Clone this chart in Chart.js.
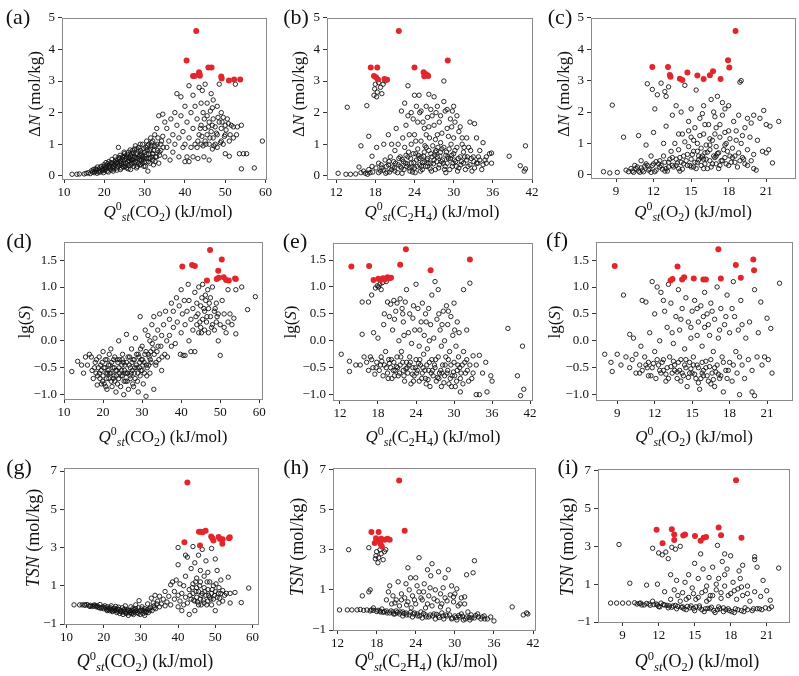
<!DOCTYPE html>
<html>
<head>
<meta charset="utf-8">
<script src="https://cdn.jsdelivr.net/npm/chart.js@4.4.1/dist/chart.umd.min.js"></script>
<style>
  body { margin: 0; background: #fff; }
  #wrap { position: relative; width: 799px; height: 676px; overflow: hidden; font-family: "Liberation Serif", "Times New Roman", serif; color: #111; }
  canvas { position: absolute; }
  .lbl { position: absolute; font-size: 22px; transform: translate(-50%, -50%); white-space: nowrap; }
  .xt { position: absolute; transform: translate(-50%, -50%); white-space: nowrap; }
  .yt { position: absolute; transform: translate(-50%, -50%) rotate(-90deg); white-space: nowrap; }
  sub, sup { font-size: 70%; line-height: 0; }
</style>
</head>
<body>
<div id="wrap"></div>
<script>
// ============================================================
// Datos: ΔN, lg(S), TSN frente a Q0st (CO2, C2H4, O2)
// Puntos rojos = materiales destacados
// ============================================================

var TICKS_CO2 = [10, 20, 30, 40, 50, 60];
var TICKS_C2H4 = [12, 18, 24, 30, 36, 42];
var TICKS_O2 = [9, 12, 15, 18, 21];
var TICKS_DN = [0, 1, 2, 3, 4, 5];
var TICKS_LGS = [-1.0, -0.5, 0.0, 0.5, 1.0, 1.5];
var TICKS_TSN = [-1, 1, 3, 5, 7];

// (a) ΔN vs Qst(CO2)
var dnCO2Red = [[40.4,3.65],[42.8,4.58],[42,3.16],[42.4,3.16],[43.5,3.28],[43.6,3.22],[43.7,3.17],[45.8,3.43],[46.6,3.43],[49,3.14],[49.1,3.08],[50.9,3.02],[52.2,3.05],[53.7,3.05]];
var dnCO2Gray = [[12,0.05],[13.2,0.05],[13.8,0.06],[15,0.06],[15.5,0.08],[16,0.1],[16.5,0.07],[17,0.12],[17.5,0.1],[18,0.15],[18.2,0.08],[18.8,0.18],[19,0.12],[19.5,0.22],[19.8,0.1],[20,0.3],[20.2,0.18],[20.5,0.25],[20.8,0.38],[21,0.12],[21.2,0.3],[21.5,0.22],[21.8,0.4],[22,0.28],[22.2,0.15],[22.5,0.35],[22.8,0.5],[23,0.25],[23.2,0.42],[23.5,0.3],[23.5,0.9],[23.8,0.55],[24,0.2],[24,0.45],[24.3,0.35],[24.5,0.6],[24.8,0.28],[25,0.5],[25,0.7],[25.3,0.4],[25.5,0.25],[25.5,0.6],[25.8,0.45],[26,0.75],[26,0.32],[26.3,0.55],[26.5,0.65],[26.5,0.2],[26.8,0.4],[27,0.8],[27,0.5],[27.3,0.3],[27.5,0.62],[27.5,0.85],[27.8,0.45],[28,0.7],[28,0.25],[28.3,0.55],[28.5,0.9],[28.5,0.4],[28.8,0.65],[29,0.35],[29,0.8],[29.2,0.5],[29.5,1.0],[29.5,0.6],[29.8,0.3],[30,0.75],[30,0.45],[30.3,0.9],[30.5,1.1],[30.5,0.55],[30.8,0.15],[31,0.7],[31,1.0],[31.3,0.4],[31.5,0.85],[31.5,1.2],[31.8,0.6],[32,1.1],[32,0.5],[32.3,0.8],[32.5,1.3],[32.8,0.95],[33,0.6],[33,1.5],[33.3,1.2],[33.5,0.4],[33.5,1.9],[34,0.8],[34,1.0],[34.5,1.95],[34.5,1.25],[35,0.6],[35,1.7],[35.5,0.9],[35.5,1.5],[36,1.1],[36.3,0.5],[36.5,1.8],[37,1.3],[37,0.75],[37.5,2.0],[37.5,1.0],[38,1.6],[38,2.6],[38.5,1.2],[38.5,0.6],[39,1.9],[39,2.5],[39.5,1.4],[39.5,0.9],[40,0.45],[40,2.2],[40,1.0],[40.5,0.6],[40.5,1.7],[41,2.85],[41,1.2],[41,0.45],[41.5,2.0],[41.5,0.9],[42,2.55],[42,1.5],[42,0.6],[42.5,1.0],[42.5,2.2],[43,0.9],[43,1.8],[43.5,2.8],[43.5,1.3],[44,2.3],[44,1.0],[44,1.6],[44.5,2.0],[44.5,0.95],[45,1.5],[45,2.9],[45,1.1],[45.5,1.9],[45.5,1.3],[45.5,2.3],[46,1.7],[46,1.0],[46,0.5],[46.3,2.05],[46.5,1.4],[46.5,2.6],[47,1.2],[47,1.8],[47,2.4],[47.5,1.0],[47.5,1.55],[48,2.2],[48,1.3],[48,0.9],[48.5,1.7],[48.5,2.9],[49,1.1],[49,1.5],[49,2.0],[49.5,1.0],[49.5,1.85],[50,1.6],[50,0.7],[50,1.3],[50.5,1.8],[51,1.1],[51,0.62],[51.5,1.6],[52,1.55],[52,1.2],[52.5,2.9],[53,1.55],[53.5,0.7],[54,1.6],[54,0.22],[54.5,0.7],[55.3,0.7],[57.2,0.25],[59.2,1.1],
  [16.8,0.16],[17.3,0.2],[17.8,0.22],[18.3,0.28],[18.6,0.12],[19.2,0.3],[19.6,0.16],[20.1,0.22],[20.4,0.42],[20.7,0.15],[21.1,0.45],[21.4,0.26],[21.7,0.18],[21.9,0.52],[22.1,0.38],[22.4,0.22],[22.7,0.6],[22.9,0.42],[23.1,0.18],[23.4,0.5],[23.7,0.35],[23.9,0.65],[24.2,0.25],[24.4,0.52],[24.7,0.4],[24.9,0.75],[25.2,0.3],[25.4,0.55],[25.7,0.68],[25.9,0.22],[26.2,0.48],[26.4,0.82],[26.7,0.35],[26.9,0.6],[27.2,0.72],[27.4,0.4],[27.7,0.95],[27.9,0.55],[28.2,0.3],[28.4,0.78],[28.7,0.5],[28.9,1.0],[29.2,0.65],[29.4,0.4],[29.7,0.85],[29.9,0.55],[30.2,0.3],[30.4,0.68],[30.7,0.95],[30.9,0.45],[31.2,0.8],[31.4,0.55],[31.7,1.05],[31.9,0.7],[32.2,0.35],[32.4,0.95],[32.7,0.6],[33.2,0.8],[33.7,0.65],[34.2,1.1],
  [17.6,0.14],[18.1,0.2],[18.9,0.25],[19.4,0.18],[19.9,0.35],[20.3,0.28],[20.6,0.32],[21.3,0.35],[21.6,0.42],[22.3,0.3],[22.6,0.45],[23.3,0.38],[23.6,0.58],[24.1,0.4],[24.6,0.3],[24.8,0.58],[25.1,0.62],[25.6,0.38],[26.1,0.58],[26.6,0.5],[26.8,0.72],[27.1,0.42],[27.6,0.58],[28.1,0.85],[28.6,0.6],[28.8,0.35],[29.1,0.72],[29.6,0.5],[30.1,0.62],[30.6,0.82],[31.1,0.55],[31.6,0.95],[32.1,0.7],[32.6,0.45],[33.1,1.0],[33.6,0.75],[34.6,0.9],[43.2,1.1],[43.8,1.5],[44.2,1.25],[44.8,1.8],[45.2,1.0],[45.8,1.55],[46.2,1.2],[46.8,1.6],[47.2,0.95],[47.8,1.35],[48.2,1.85],[48.8,1.05],[49.2,1.7],[49.8,1.25],[50.2,1.45],[50.8,1.65],[51.2,1.3],[44.3,2.7],[46.8,2.15],[43.2,0.55],[44.7,0.6],[46.8,0.85],[52.8,1.3]];

// (b) ΔN vs Qst(C2H4)
var dnC2H4Red = [[17.3,3.43],[18.3,3.43],[17.8,3.16],[18.1,3.12],[18.4,3.05],[19.4,3.06],[19.8,3.04],[21.6,4.58],[24.0,3.43],[25.4,3.28],[25.7,3.22],[26.0,3.18],[25.5,3.15],[26.1,3.16],[29.1,3.65]];
var dnC2H4Gray = [[12.3,0.08],[13.5,0.05],[14.2,0.05],[15,0.06],[15.5,0.28],[15.8,0.95],[15.8,0.1],[16.2,0.15],[16.5,0.08],[16.7,2.22],[13.7,2.17],[17,1.25],[17,0.2],[17.2,0.1],[17.5,0.62],[17.5,0.3],[17.8,2.55],[17.9,2.75],[18,2.9],[18.2,2.5],[18.3,2.65],[18.5,2.95],[18.8,2.8],[19,2.6],[19.2,2.9],[19.5,3.0],[18.8,0.15],[18.5,0.4],[18.2,0.9],[19,0.25],[19.3,1.0],[19.5,0.5],[19.8,0.12],[20,0.35],[20,1.3],[20.3,0.6],[20.5,0.2],[20.5,1.0],[20.8,0.45],[21,0.8],[21,0.15],[21.2,1.5],[21.5,0.35],[21.5,1.0],[21.8,0.6],[22,0.25],[22,2.05],[22.2,1.2],[22.3,0.45],[22.5,0.9],[22.5,2.3],[22.8,0.3],[23,0.6],[23,1.9],[23,2.85],[23.3,0.15],[23.5,0.4],[23.5,1.0],[23.5,2.0],[23.8,0.7],[24,0.25],[24,1.3],[24,2.55],[24.3,0.5],[24.5,0.85],[24.5,1.7],[24.7,2.55],[24.8,0.35],[25,0.6],[25,1.1],[25,2.05],[25.2,0.2],[25.5,0.45],[25.5,0.75],[25.5,1.5],[25.8,2.2],[25.8,0.9],[26,0.3],[26,0.55],[26,1.85],[26.2,2.58],[26.3,1.2],[26.5,0.7],[26.5,0.4],[26.5,2.1],[26.8,0.95],[27,0.5],[27,1.6],[27,2.5],[27.2,0.2],[27.3,0.8],[27.5,0.6],[27.5,1.3],[27.5,2.2],[27.8,0.35],[28,0.75],[28,1.05],[28,1.9],[28.3,0.5],[28.5,0.9],[28.5,3.0],[28.5,2.35],[28.8,0.1],[28.8,0.65],[29,1.5],[29,0.4],[29,2.1],[29.3,0.85],[29.5,0.55],[29.5,1.8],[29.8,0.3],[30,0.7],[30,1.2],[30,2.2],[30.3,0.45],[30.5,0.9],[30.5,1.9],[30.8,0.25],[31,0.6],[31,1.55],[31.3,1.0],[31.5,0.4],[31.5,0.75],[31.8,0.2],[32,0.5],[32,1.2],[32.3,0.9],[32.5,0.35],[32.5,1.7],[32.8,0.15],[33,0.6],[33.2,1.65],[33.5,0.4],[33.5,1.2],[34,0.5],[34,0.8],[34.5,1.05],[34.5,0.35],[35,0.6],[35,0.4],[35.5,0.7],[35.8,0.4],[35.8,0.72],[38.5,0.62],[40.2,0.32],[40.8,0.15],[41,0.22],[41,0.95],
  [18.5,0.1],[19.2,0.18],[19.7,0.3],[20.2,0.12],[20.6,0.28],[21.1,0.4],[21.4,0.1],[21.8,0.3],[22.1,0.52],[22.4,0.2],[22.7,0.65],[22.9,0.38],[23.2,0.25],[23.4,0.55],[23.7,0.12],[23.9,0.42],[24.2,0.7],[24.4,0.3],[24.7,0.55],[24.9,0.15],[25.2,0.42],[25.4,0.62],[25.7,0.3],[25.9,0.5],[26.2,0.8],[26.4,0.22],[26.7,0.6],[26.9,0.38],[27.2,0.75],[27.4,0.45],[27.7,0.25],[27.9,0.62],[28.2,0.85],[28.4,0.4],[28.7,0.3],[28.9,0.75],[29.2,0.55],[29.4,0.2],[29.7,0.65],[29.9,0.4],[30.2,0.8],[30.4,0.3],[30.7,0.55],[31.2,0.45],[31.7,0.6],[32.2,0.3],[32.7,0.55],[33.2,0.25],[33.7,0.4],[34.3,0.2],
  [16.8,0.05],[17.6,0.12],[18.1,0.25],[18.9,0.35],[19.6,0.08],[20.1,0.45],[20.9,0.25],[21.6,0.55],[22.1,0.08],[22.6,0.4],[23.1,0.75],[23.6,0.28],[24.1,0.1],[24.6,0.65],[25.1,0.3],[25.6,0.95],[26.1,0.4],[26.6,0.15],[27.1,0.65],[27.6,0.9],[28.1,0.45],[28.6,0.2],[29.1,0.6],[29.6,1.0],[30.1,0.5],[30.6,0.15],[31.1,0.35],[31.6,0.9],[32.1,0.6],[32.6,0.8],[33.1,0.45],[33.8,0.6],[34.8,0.5],[22.7,1.6],[23.2,1.3],[23.8,1.8],[24.2,1.1],[24.8,2.0],[25.3,1.7],[25.8,1.3],[26.2,1.55],[26.7,1.9],[27.2,1.15],[27.8,1.7],[28.2,1.35],[28.7,2.05],[29.2,1.25],[29.7,1.55],[30.2,1.7],[30.8,1.4],[31.3,1.2],[27.3,2.0],[24.3,2.2],[29.8,2.05]];

// (c) ΔN vs Qst(O2)
var dnO2Red = [[11.9,3.43],[13.15,3.43],[13.3,3.18],[13.35,3.12],[14.1,3.06],[14.3,3.02],[14.7,3.26],[15.5,3.16],[16.0,3.05],[16.5,3.17],[16.75,3.3],[17.35,3.05],[17.95,3.65],[18.05,3.42],[18.55,4.58]];
var dnO2Gray = [[8,0.1],[8.5,0.06],[8.7,2.22],[9.1,0.08],[9.6,1.2],[9.8,0.15],[10,0.1],[10.2,0.2],[10.4,0.08],[10.5,0.3],[10.8,0.12],[10.8,1.25],[11,0.22],[11,0.45],[11.2,0.1],[11.4,0.95],[11.5,0.3],[11.5,2.9],[11.7,0.18],[11.8,0.6],[11.9,2.72],[12,0.35],[12,1.35],[12.1,2.1],[12.2,0.15],[12.3,2.55],[12.5,0.45],[12.5,0.25],[12.6,2.92],[12.8,0.6],[12.8,1.0],[12.9,2.65],[13,0.2],[13,2.5],[13,1.55],[13.2,0.4],[13.2,2.8],[13.4,0.75],[13.5,0.3],[13.5,1.9],[13.7,1.0],[13.8,0.5],[13.8,2.2],[14,0.2],[14,0.8],[14,1.3],[14.2,0.4],[14.2,2.0],[14.4,0.6],[14.5,1.05],[14.5,2.85],[14.7,0.3],[14.8,1.7],[14.8,0.9],[15,0.5],[15,1.2],[15,2.1],[15.2,0.25],[15.2,0.75],[15.3,1.5],[15.4,2.7],[15.5,0.4],[15.5,1.0],[15.6,0.6],[15.7,1.8],[15.8,0.3],[15.8,0.85],[16,0.5],[16,1.3],[16,2.2],[16.1,0.7],[16.2,0.95],[16.3,0.2],[16.4,1.6],[16.5,0.45],[16.5,0.8],[16.6,2.4],[16.7,1.1],[16.8,0.6],[16.8,2.0],[17,0.35],[17,0.9],[17,1.5],[17.1,2.5],[17.2,0.7],[17.3,1.2],[17.4,0.45],[17.5,1.9],[17.5,2.3],[17.6,0.8],[17.8,1.0],[17.8,0.35],[18,1.4],[18,2.2],[18.1,0.6],[18.3,0.85],[18.4,1.7],[18.5,0.4],[18.6,1.1],[18.8,1.9],[18.8,0.7],[18.9,2.95],[19,3.0],[19,1.0],[19.2,0.5],[19.3,1.5],[19.5,1.8],[19.5,0.8],[19.7,1.2],[19.8,1.65],[20,0.2],[20,0.65],[20,1.9],[20.2,0.15],[20.3,1.1],[20.5,1.8],[20.7,0.75],[20.8,2.05],[21,0.7],[21,1.6],[21.2,0.8],[21.3,1.55],[21.5,0.38],[22,1.7],
  [10.3,0.12],[10.6,0.2],[10.9,0.08],[11.3,0.28],[11.6,0.15],[11.9,0.3],[12.1,0.1],[12.4,0.35],[12.7,0.18],[12.9,0.4],[13.1,0.12],[13.3,0.5],[13.6,0.25],[13.9,0.38],[14.1,0.55],[14.3,0.18],[14.6,0.45],[14.9,0.3],[15.1,0.65],[15.4,0.2],[15.6,0.48],[15.9,0.6],[16.1,0.35],[16.3,0.72],[16.6,0.25],[16.9,0.55],[17.1,0.68],[17.3,0.3],[17.7,0.55],[17.9,0.75],[18.2,0.4],[18.5,0.6],[18.9,0.45],[19.3,0.35],[19.8,0.45],
  [10.7,0.25],[11.1,0.15],[11.4,0.35],[11.8,0.08],[12.2,0.42],[12.6,0.3],[12.9,0.12],[13.2,0.25],[13.5,0.55],[13.8,0.3],[14.1,0.12],[14.4,0.35],[14.7,0.65],[15.0,0.25],[15.3,0.4],[15.5,0.75],[15.8,0.55],[16.0,0.2],[16.2,0.5],[16.5,0.95],[16.7,0.35],[17.0,0.6],[17.2,0.2],[17.5,0.45],[17.7,0.95],[18.0,0.3],[18.3,0.55],[18.7,0.25],[19.1,0.55],[19.5,0.3],[14.3,1.3],[14.8,1.4],[15.2,1.1],[15.7,1.25],[16.1,1.6],[16.5,1.15],[16.9,1.3],[17.3,1.6],[17.7,1.35],[18.1,1.15],[18.6,1.4],[19.1,1.25],[15.9,1.95],[16.9,1.85],[17.7,2.1]];

// (d) lg(S) vs Qst(CO2)
var lgsCO2Red = [[40.3,1.38],[42.8,1.41],[43.5,1.39],[47.4,1.69],[46.6,1.12],[49.1,1.15],[49.6,1.17],[49.5,1.30],[50.4,1.51],[50.9,1.18],[51.5,1.13],[52.2,1.12],[53.8,1.16],[54.0,1.15]];
var lgsCO2Gray = [[12,-0.57],[13.5,-0.38],[14.5,-0.45],[15,-0.6],[15.5,-0.3],[16,-0.45],[16.5,-0.25],[17,-0.3],[17.2,-0.55],[17.5,-0.7],[18,-0.4],[18.2,-0.6],[18.5,-0.82],[18.8,-0.5],[19,-0.3],[19.2,-0.7],[19.5,-0.55],[19.8,-0.4],[20,-0.65],[20,-0.2],[20.3,-0.8],[20.5,-0.5],[20.8,-0.6],[21,-0.35],[21,-0.9],[21.3,-0.55],[21.5,-0.7],[21.8,-0.45],[22,-0.6],[22,-0.15],[22.3,-0.85],[22.5,-0.5],[22.8,-0.65],[23,-0.3],[23,-0.75],[23.3,-0.95],[23.5,-0.55],[23.8,-0.4],[24,-0.7],[24,0.0],[24.3,-0.6],[24.5,-0.85],[24.8,-0.45],[25,-0.25],[25,-0.65],[25.3,-1.0],[25.5,-0.55],[25.8,-0.75],[26,-0.4],[26,0.12],[26.3,-0.6],[26.5,-0.9],[26.8,-0.3],[27,-0.5],[27,-0.7],[27.3,-0.15],[27.5,-0.55],[27.8,-0.85],[28,-0.35],[28,-0.6],[28.3,0.05],[28.5,-0.45],[28.8,-0.75],[29,-0.25],[29,-0.95],[29.3,-0.5],[29.5,0.45],[29.5,-0.65],[29.8,-0.35],[30,-0.55],[30,-0.1],[30.3,-0.8],[30.5,-0.4],[30.8,0.2],[31,-0.2],[31,-1.03],[31.3,-0.5],[31.5,0.1],[31.8,-0.3],[32,-0.6],[32,0.0],[32.3,-0.4],[32.5,0.3],[32.8,-0.15],[33,-0.9],[33,0.45],[33.3,0.05],[33.5,-0.45],[33.8,-0.2],[34,0.2],[34.3,-0.35],[34.5,0.5],[34.8,-0.1],[35,-0.55],[35,0.1],[35.5,0.3],[35.8,-0.25],[36,0.55],[36.3,0.0],[36.5,-0.3],[37,0.4],[37,0.1],[37.5,0.7],[37.5,-0.1],[38,0.25],[38,0.55],[38.5,-0.05],[38.8,0.8],[39,0.35],[39.5,0.65],[39.8,-0.25],[40,0.95],[40,0.15],[40.3,0.5],[40.5,-0.27],[40.8,0.75],[41,0.3],[41,-0.27],[41.5,0.55],[41.8,1.05],[42,0.0],[42,0.75],[42.5,0.4],[42.5,-0.2],[43,0.6],[43,0.2],[43.5,0.9],[43.5,-0.2],[44,0.3],[44,0.7],[44.3,0.5],[44.5,1.0],[44.5,0.15],[45,0.65],[45,0.25],[45.3,0.8],[45.5,0.4],[45.5,1.05],[46,0.55],[46,0.2],[46.3,0.75],[46.5,0.35],[46.8,0.95],[47,0.6],[47,0.15],[47.5,0.45],[47.5,0.8],[48,0.3],[48,1.0],[48.5,0.55],[48.5,0.2],[49,0.7],[49,0.35],[49.5,0.0],[49.5,0.5],[50,0.3],[50,-0.27],[50.5,0.75],[51,0.25],[51,0.5],[51.5,0.15],[52,0.35],[52,0.95],[52.5,0.5],[53,0.3],[53.5,0.42],[54,0.13],[54,0.95],[55.5,1.0],[57,0.58],[59,0.82],
  [18.6,-0.65],[19.4,-0.45],[19.9,-0.75],[20.6,-0.35],[20.9,-0.7],[21.4,-0.45],[21.7,-0.6],[22.2,-0.4],[22.6,-0.7],[22.9,-0.5],[23.4,-0.65],[23.6,-0.35],[24.1,-0.5],[24.6,-0.65],[24.9,-0.35],[25.4,-0.75],[25.6,-0.45],[26.1,-0.6],[26.4,-0.3],[26.9,-0.65],[27.4,-0.4],[27.6,-0.8],[28.1,-0.5],[28.6,-0.25],[28.9,-0.6],[29.4,-0.4],[29.6,-0.15],[30.1,-0.35],[30.6,-0.6],[31.1,-0.45],[31.6,-0.25],[32.1,-0.35],[32.6,-0.05],[33.1,-0.25],[34.1,-0.1],[35.1,-0.3],
  [17.8,-0.5],[18.3,-0.35],[19.1,-0.6],[19.6,-0.8],[20.2,-0.5],[20.7,-0.85],[21.2,-0.6],[21.6,-0.25],[22.1,-0.75],[22.7,-0.35],[23.2,-0.55],[23.7,-0.8],[24.2,-0.35],[24.7,-0.55],[25.2,-0.4],[25.7,-0.6],[26.2,-0.75],[26.7,-0.45],[27.2,-0.6],[27.7,-0.35],[28.2,-0.7],[28.7,-0.5],[29.2,-0.3],[29.7,-0.55],[30.2,-0.45],[30.7,-0.25],[31.2,-0.65],[31.7,-0.45],[32.2,-0.2],[33.6,-0.4],[43.8,0.45],[44.8,0.35],[45.8,0.6],[46.6,0.45],[47.2,0.7],[47.8,0.25],[48.7,0.6],[45.2,0.15],[46.2,0.85],[49.2,0.45]];

// (e) lg(S) vs Qst(C2H4)
var lgsC2H4Red = [[13.8,1.38],[16.6,1.39],[17.3,1.13],[18.05,1.15],[18.4,1.13],[18.8,1.16],[19.1,1.14],[19.5,1.18],[19.8,1.16],[20.05,1.17],[21.5,1.41],[22.4,1.70],[26.3,1.31],[32.5,1.51]];
var lgsC2H4Gray = [[12.2,-0.25],[13.5,-0.57],[13.5,-0.38],[14.5,-0.45],[15.2,-0.45],[15.5,0.72],[15.5,0.12],[15.8,-0.3],[16.2,-0.4],[16.5,0.72],[16.5,-0.55],[16.8,-0.3],[17,0.85],[17,-0.35],[17.2,-0.5],[17.3,0.15],[17.5,-0.62],[17.6,0.98],[17.8,-0.4],[17.9,1.02],[18,0.05],[18.1,1.0],[18.2,-0.55],[18.3,1.05],[18.5,-0.3],[18.5,0.95],[18.7,1.08],[18.8,-0.65],[18.9,0.3],[19,-0.45],[19,0.5],[19.2,-0.2],[19.3,1.1],[19.5,-0.6],[19.5,0.72],[19.7,-0.35],[19.8,0.45],[20,-0.5],[20,0.68],[20.2,-0.7],[20.3,0.2],[20.5,-0.4],[20.5,0.75],[20.7,-0.55],[20.8,0.55],[21,-0.3],[21,0.7],[21.2,-0.65],[21.3,0.0],[21.5,-0.45],[21.5,0.78],[21.7,-0.2],[21.8,0.6],[22,-0.55],[22,0.35],[22.2,-0.75],[22.3,0.72],[22.5,-0.4],[22.5,0.95],[22.7,-0.6],[22.8,0.15],[23,-0.3],[23,0.5],[23.2,-0.8],[23.3,-0.05],[23.5,-0.5],[23.5,0.42],[23.7,-0.65],[23.8,0.2],[24,-0.35],[24,1.05],[24.2,-0.55],[24.3,0.6],[24.5,-0.75],[24.5,-0.1],[24.7,-0.45],[24.8,0.35],[25,-0.6],[25,0.7],[25.2,-0.25],[25.3,0.1],[25.5,-0.7],[25.5,0.5],[25.7,-0.45],[25.8,-0.15],[26,-0.55],[26,0.6],[26.2,-0.85],[26.3,0.3],[26.5,-0.35],[26.5,0.85],[26.7,-0.65],[26.8,0.05],[27,-0.5],[27,1.1],[27.2,-0.75],[27.3,0.4],[27.5,-0.3],[27.5,0.95],[27.7,-0.6],[27.8,0.2],[28,-0.85],[28,-0.1],[28.2,-0.45],[28.3,0.55],[28.5,-0.65],[28.5,0.0],[28.7,-0.3],[28.8,0.65],[29,-0.55],[29,0.3],[29.2,-0.8],[29.3,-0.2],[29.5,-0.45],[29.5,0.45],[29.7,-0.65],[29.8,0.1],[30,-0.4],[30,0.7],[30.2,-0.85],[30.3,-0.1],[30.5,-0.55],[30.5,0.35],[30.7,-0.3],[30.8,0.15],[31,-0.7],[31,-0.95],[31.3,-0.45],[31.5,0.95],[31.5,-0.2],[31.8,-0.6],[32,0.2],[32,-0.35],[32.3,-0.75],[32.5,1.07],[32.5,-0.45],[33,-0.28],[33,-0.6],[33.5,-1.0],[33.5,-0.45],[34,-0.27],[34,-1.0],[34.5,-0.6],[35,-0.4],[35.2,-0.95],[35.8,-0.65],[36,-0.75],[38.5,0.23],[40,-0.65],[40.5,-1.02],[41,-0.9],[40.8,-0.1],
  [18.4,-0.45],[19.3,-0.5],[19.8,-0.42],[20.4,-0.55],[20.9,-0.48],[21.4,-0.6],[21.9,-0.4],[22.4,-0.52],[22.9,-0.45],[23.4,-0.62],[23.9,-0.5],[24.4,-0.42],[24.9,-0.7],[25.4,-0.55],[25.9,-0.72],[26.4,-0.6],[26.9,-0.45],[27.4,-0.68],[27.9,-0.55],[28.4,-0.78],[28.9,-0.6],[29.4,-0.7],[29.9,-0.58],[30.4,-0.75],[30.9,-0.5],[31.4,-0.8],
  [17.7,-0.5],[18.6,-0.38],[19.6,-0.7],[20.1,-0.35],[20.6,-0.65],[21.1,-0.5],[21.6,-0.3],[22.1,-0.65],[22.6,-0.5],[23.1,-0.4],[23.6,-0.75],[24.1,-0.6],[24.6,-0.35],[25.1,-0.5],[25.6,-0.8],[26.1,-0.4],[26.6,-0.55],[27.1,-0.35],[27.6,-0.7],[28.1,-0.6],[28.6,-0.45],[29.1,-0.35],[29.6,-0.85],[30.1,-0.65],[30.6,-0.45],[31.1,-0.6],[31.7,-0.4],[32.1,-0.55],[32.8,-0.7],[22.1,0.1],[23.6,0.65],[24.6,0.2],[25.6,0.35],[26.1,0.0],[27.6,0.5],[28.1,0.3],[29.1,0.55],[30.1,0.2],[20.6,0.4],[21.9,0.5]];

// (f) lg(S) vs Qst(O2)
var lgsO2Red = [[8.8,1.39],[13.27,1.12],[13.43,1.15],[13.83,1.38],[14.2,1.14],[14.36,1.18],[15.13,1.16],[15.9,1.14],[16.1,1.14],[17.1,1.70],[17.3,1.16],[18.5,1.41],[18.9,1.17],[19.9,1.51],[19.96,1.31]];
var lgsO2Gray = [[8,-0.25],[8.5,-0.4],[8.6,-0.57],[9,-0.25],[9.3,-0.45],[9.5,0.85],[9.7,-0.3],[10,0.12],[10,-0.5],[10.2,-0.35],[10.3,0.05],[10.5,-0.6],[10.5,-0.25],[10.8,-0.45],[10.9,-0.1],[11,0.75],[11,-0.55],[11.2,-0.3],[11.3,0.72],[11.5,-0.65],[11.5,-0.4],[11.6,0.15],[11.8,-0.5],[11.8,1.1],[12,-0.2],[12,0.5],[12.1,-0.7],[12.2,1.0],[12.3,-0.45],[12.4,0.0],[12.5,-0.6],[12.5,0.9],[12.7,-0.35],[12.8,0.55],[12.9,-0.75],[13,-0.5],[13,0.25],[13.1,1.05],[13.2,-0.3],[13.3,0.7],[13.4,-0.6],[13.5,-0.05],[13.6,-0.45],[13.7,0.45],[13.8,-0.7],[13.9,0.95],[14,-0.55],[14,0.2],[14.1,-0.35],[14.2,0.6],[14.3,-0.65],[14.4,-0.15],[14.5,-0.5],[14.5,0.8],[14.6,-0.85],[14.7,0.35],[14.8,-0.4],[14.9,0.05],[15,-0.6],[15,0.55],[15.1,-0.3],[15.2,0.75],[15.3,-0.7],[15.4,0.1],[15.5,-0.5],[15.5,0.35],[15.6,-0.9],[15.7,0.65],[15.8,-0.4],[15.8,-0.1],[15.9,-0.65],[16,0.25],[16,0.9],[16.1,-0.5],[16.2,0.5],[16.3,-0.75],[16.4,0.1],[16.5,-0.35],[16.5,0.7],[16.6,-0.6],[16.7,-0.2],[16.8,-0.85],[16.8,0.4],[17,-0.45],[17,1.0],[17.1,0.05],[17.2,-0.7],[17.3,0.6],[17.4,-0.3],[17.5,-0.95],[17.6,0.3],[17.7,-0.55],[17.8,0.85],[18,-0.4],[18,0.15],[18.2,-0.75],[18.3,1.1],[18.4,0.45],[18.5,-0.2],[18.6,-0.6],[18.7,0.2],[18.8,-1.0],[18.9,0.75],[19,-0.45],[19,0.3],[19.2,-0.7],[19.3,0.05],[19.5,-0.35],[19.6,0.35],[19.8,-0.95],[19.8,-0.55],[20,-1.02],[20,0.95],[20.2,-0.3],[20.3,0.15],[20.5,0.72],[20.6,-0.45],[20.8,-0.3],[21,0.42],[21.1,-0.35],[21.3,0.23],[21.4,-0.6],[22,1.07],
  [11.4,-0.5],[11.9,-0.42],[12.4,-0.55],[12.6,-0.4],[12.9,-0.62],[13.3,-0.48],[13.6,-0.55],[13.9,-0.4],[14.2,-0.6],[14.4,-0.45],[14.7,-0.68],[14.9,-0.52],[15.2,-0.62],[15.4,-0.45],[15.7,-0.7],[15.9,-0.55],[16.2,-0.65],[16.4,-0.48],[16.7,-0.72],[16.9,-0.58],[17.3,-0.65],[17.8,-0.7],
  [10.8,-0.6],[11.3,-0.45],[11.7,-0.65],[12.2,-0.35],[12.7,-0.55],[13.1,-0.7],[13.5,-0.38],[13.8,-0.58],[14.1,-0.75],[14.5,-0.35],[14.8,-0.6],[15.1,-0.45],[15.5,-0.78],[15.8,-0.6],[16.1,-0.38],[16.5,-0.8],[16.8,-0.5],[17.1,-0.62],[17.5,-0.4],[17.9,-0.55],[18.3,-0.45],[18.8,-0.3],[14.1,0.4],[14.9,0.25],[15.4,0.6],[15.9,0.45],[16.3,0.3],[16.6,0.55],[17.2,0.2],[17.7,0.45],[18.2,0.6],[13.4,0.15],[12.7,0.75]];

// (g) TSN vs Qst(CO2)
var tsnCO2Red = [[42.5,6.4],[41.7,3.27],[45.6,3.82],[46.1,3.82],[46.6,3.8],[47.4,3.88],[45.9,3.1],[48.9,3.58],[49.2,3.48],[49.5,3.37],[50.9,3.55],[51.3,3.44],[52.0,3.43],[51.9,3.2],[53.7,3.49],[53.9,3.54]];
var tsnCO2Gray = [[12,0],[13.5,0],[14.2,0],[15,-0.02],[15.5,0.02],[16,-0.05],[16.5,-0.02],[17,-0.08],[17.5,0],[18,-0.1],[18.3,-0.05],[18.8,-0.15],[19,0.02],[19.5,-0.12],[20,-0.2],[20.3,-0.05],[20.8,-0.25],[21,-0.1],[21.5,-0.3],[21.8,-0.15],[22,-0.05],[22.3,-0.35],[22.6,-0.2],[23,-0.3],[23.2,-0.08],[23.5,-0.4],[23.8,-0.22],[24,-0.12],[24.3,-0.45],[24.6,-0.3],[25,-0.15],[25.2,-0.5],[25.5,-0.35],[25.8,-0.05],[26,-0.45],[26.3,-0.25],[26.6,-0.55],[27,-0.3],[27.3,-0.1],[27.5,-0.45],[27.8,-0.2],[28,-0.5],[28.3,-0.35],[28.6,0.0],[29,-0.4],[29.3,-0.15],[29.5,0.22],[29.8,-0.5],[30,-0.3],[30.3,-0.1],[30.6,-0.45],[31,-0.55],[31,-0.2],[31.5,-0.35],[31.8,0.05],[32,-0.4],[32.5,-0.15],[32.8,0.35],[33,-0.3],[33.3,0.1],[33.5,-0.05],[33.8,0.5],[34,-0.2],[34.5,0.2],[35,-0.1],[35,0.45],[35.5,0.05],[36,0.3],[36.5,-0.05],[36.5,0.7],[37,0.15],[37.5,0.45],[38,0.0],[38,1.05],[38.5,1.2],[39,0.3],[39,0.7],[39.5,1.3],[40,-0.1],[40,0.5],[40,2.1],[40,3.0],[40.5,1.1],[40.5,0.2],[41,0.6],[41,-0.3],[41.5,1.0],[41.5,0.0],[42,2.6],[42,0.4],[42,1.5],[42.5,2.5],[42.5,0.1],[43,0.8],[43,-0.5],[43.5,1.9],[43.5,0.3],[44,3.05],[44,1.1],[44,0.6],[44.5,-0.3],[44.5,0.2],[44.5,2.2],[45,0.9],[45,0.4],[45,1.4],[45.5,0.0],[45.5,0.7],[45.5,2.6],[46,1.2],[46,0.3],[46,1.8],[46.5,0.6],[46.5,2.9],[47,0.1],[47,0.9],[47,1.5],[47.5,0.5],[47.5,2.3],[48,0.8],[48,0.2],[48,1.7],[48.5,0.4],[48.5,1.2],[49,2.95],[49,0.6],[49,0.0],[49.5,0.3],[49.5,1.0],[50,0.7],[50,-0.3],[50,2.4],[50.5,0.4],[50.5,1.8],[51,0.9],[51,0.1],[51.5,0.6],[51.5,1.3],[52,0.2],[52,0.75],[52.5,0.5],[53,0.6],[53.5,1.45],[54,0.1],[54,0.6],[55.3,0.65],[57,0.12],[59,0.88],
  [16.3,-0.08],[17.3,-0.05],[18.5,-0.12],[19.3,-0.18],[20.5,-0.15],[21.2,-0.22],[22.1,-0.25],[22.9,-0.18],[23.6,-0.32],[24.2,-0.25],[24.9,-0.38],[25.6,-0.22],[26.2,-0.35],[26.9,-0.42],[27.6,-0.32],[28.2,-0.25],[28.9,-0.3],[29.6,-0.35],[30.2,-0.22],[30.9,-0.35],[31.7,-0.25],[32.4,-0.28],
  [14.8,0.0],[17.8,-0.05],[19.8,-0.1],[20.9,-0.3],[21.6,-0.2],[22.4,-0.3],[23.3,-0.25],[24.5,-0.35],[25.3,-0.28],[25.9,-0.42],[26.6,-0.3],[27.2,-0.38],[27.9,-0.42],[28.6,-0.2],[29.3,-0.45],[30.6,-0.3],[31.3,-0.4],[32.2,-0.2],[33.6,-0.15],[34.3,0.05],[43.2,0.5],[43.8,0.9],[44.2,0.25],[44.8,0.7],[45.2,0.15],[45.8,1.0],[46.2,0.5],[46.8,0.25],[47.2,0.7],[47.8,1.2],[48.2,0.5],[48.8,0.3],[49.2,0.8],[49.8,0.5],[50.2,1.1],[50.8,0.6],[51.2,0.35],[46.2,0.0],[44.7,1.2],[47.7,0.0]];

// (h) TSN vs Qst(C2H4)
var tsnC2H4Red = [[21.45,6.45],[17.2,3.88],[18.3,3.88],[22.3,3.95],[17.7,3.34],[17.9,3.57],[18.2,3.47],[18.5,3.4],[18.7,3.54],[18.6,3.28],[18.8,3.16],[19.25,3.5],[19.65,3.54],[20.0,3.5]];
var tsnC2H4Gray = [[12.3,0],[13.5,0],[14.2,0],[15,0],[15.5,0.02],[15.8,0.7],[16,-0.02],[16.5,0.0],[16.8,0.9],[17,1.0],[17,-0.05],[17.5,0.1],[17.5,-0.02],[17.8,2.55],[17.9,2.7],[18,2.9],[18.2,2.35],[18.3,2.6],[18.5,3.0],[18.7,2.8],[19,2.5],[19.2,2.9],[19.4,3.0],[13.7,3.0],[16.8,3.1],[18,-0.08],[18.5,-0.05],[18.8,0.05],[19,-0.12],[19.5,-0.05],[19.5,0.5],[19.8,0.9],[20,-0.15],[20,1.2],[20.3,0.3],[20.5,-0.1],[20.5,0.7],[20.8,-0.2],[21,0.5],[21,-0.05],[21.3,1.4],[21.5,-0.2],[21.5,0.2],[21.8,0.8],[22,-0.1],[22,-0.3],[22.3,0.6],[22.5,1.3],[22.5,-0.15],[22.8,2.1],[22.8,0.4],[23,-0.25],[23,1.0],[23.3,0.1],[23.5,-0.35],[23.5,0.7],[23.8,-0.15],[24,1.6],[24,0.3],[24.3,-0.3],[24.5,2.6],[24.5,0.9],[24.8,-0.1],[25,0.5],[25,-0.4],[25.3,1.3],[25.5,0.1],[25.5,-0.25],[25.8,2.0],[26,0.7],[26,-0.35],[26.3,1.7],[26.5,2.3],[26.5,0.2],[26.8,-0.2],[27,1.0],[27,-0.45],[27.3,0.45],[27.5,1.9],[27.5,-0.3],[27.8,0.8],[28,-0.15],[28,0.3],[28.3,-0.45],[28.5,1.6],[28.5,0.6],[28.8,-0.3],[29,2.0],[29,0.0],[29.3,0.75],[29.5,-0.45],[29.5,1.2],[29.8,0.4],[30,-0.3],[30,0.8],[30.3,-0.5],[30.5,0.2],[30.8,-0.35],[31,0.6],[31,-0.2],[31.3,-0.5],[31.5,0.3],[31.8,1.75],[31.8,-0.35],[32,-0.1],[32.3,-0.5],[32.5,-0.25],[32.8,1.85],[33,2.45],[33,-0.4],[33.5,-0.2],[34,-0.45],[34.5,-0.3],[35,-0.45],[35.5,-0.35],[36,-0.55],[38.8,0.15],[40.5,-0.25],[41,-0.15],[41.2,-0.2],
  [18.2,-0.02],[19.2,-0.08],[20.2,-0.05],[21.2,-0.12],[22.2,-0.18],[23.2,-0.12],[24.2,-0.2],[25.2,-0.18],[26.2,-0.25],[27.2,-0.22],[28.2,-0.3],[29.2,-0.25],[30.2,-0.38],[31.2,-0.32],[32.2,-0.38],[33.2,-0.28],[34.2,-0.35],
  [17.2,0.0],[18.6,-0.1],[19.6,-0.15],[20.6,-0.2],[21.6,-0.1],[22.6,-0.25],[23.6,-0.2],[24.6,-0.3],[25.6,-0.35],[26.6,-0.3],[27.6,-0.38],[28.6,-0.25],[29.6,-0.4],[30.6,-0.28],[31.6,-0.45],[32.6,-0.4],[33.6,-0.35],[34.6,-0.45],[20.8,0.35],[21.8,0.5],[22.6,0.25],[23.8,0.5],[24.8,0.6],[25.8,0.3],[26.8,0.55],[27.8,0.15],[28.8,0.45],[29.8,0.65],[30.8,0.3],[31.5,0.65],[24.2,1.2],[25.2,0.9],[26.2,1.1],[28.2,1.1],[30.3,1.05],[23.2,1.6]];

// (i) TSN vs Qst(O2)
var tsnO2Red = [[18.45,6.5],[11.83,3.88],[12.33,3.17],[13.1,3.9],[13.3,3.62],[13.3,3.33],[14.05,3.57],[14.2,3.62],[15.03,3.55],[15.5,3.29],[15.75,3.45],[15.95,3.5],[17.0,3.99],[17.2,3.59],[18.9,3.45]];
var tsnO2Gray = [[8,0],[8.5,0],[8.7,3.1],[9,0],[9.5,0],[9.6,1.05],[10,0.02],[10.2,-0.05],[10.5,0.0],[10.8,-0.1],[11,0.95],[11,-0.02],[11.3,-0.12],[11.5,0.1],[11.5,2.9],[11.8,-0.05],[11.9,1.0],[12,-0.18],[12,2.65],[12.2,0.0],[12.3,2.55],[12.5,-0.1],[12.5,0.6],[12.6,2.7],[12.8,-0.25],[12.8,2.35],[13,0.2],[13,1.5],[13.1,2.95],[13.2,-0.15],[13.3,0.7],[13.4,2.85],[13.5,-0.3],[13.5,1.2],[13.8,0.1],[13.8,3.0],[14,-0.2],[14,0.55],[14.2,1.1],[14.3,-0.35],[14.5,0.3],[14.5,1.5],[14.7,-0.15],[14.8,0.8],[15,-0.4],[15,2.1],[15.1,0.2],[15.3,1.3],[15.4,-0.25],[15.5,2.6],[15.6,0.55],[15.7,1.8],[15.8,-0.45],[16,0.9],[16,0.1],[16.2,1.35],[16.3,-0.3],[16.5,0.4],[16.5,1.9],[16.7,-0.5],[16.8,0.7],[16.9,3.05],[17,1.3],[17,-0.2],[17.2,0.25],[17.3,2.2],[17.4,-0.45],[17.5,2.6],[17.5,0.9],[17.7,1.8],[17.8,-0.3],[18,0.5],[18,2.5],[18.2,1.1],[18.3,-0.5],[18.5,0.2],[18.6,0.75],[18.8,1.3],[18.9,-0.4],[19,2.0],[19,0.4],[19.2,-0.25],[19.4,0.9],[19.6,0.1],[19.8,-0.4],[20,2.45],[20,2.3],[20,0.6],[20.2,1.9],[20.4,-0.3],[20.5,0.35],[20.7,1.2],[20.9,-0.25],[21,0.65],[21.3,0.15],[21.4,-0.2],[22,1.85],
  [10.4,-0.02],[11.2,-0.05],[11.9,-0.1],[12.4,-0.08],[12.9,-0.15],[13.4,-0.12],[13.9,-0.22],[14.4,-0.18],[14.9,-0.28],[15.4,-0.15],[15.9,-0.3],[16.4,-0.22],[16.9,-0.35],[17.4,-0.25],[17.9,-0.4],[18.4,-0.3],[19.4,-0.35],[20.2,-0.3],[21.2,-0.3],
  [10.6,-0.1],[11.6,-0.08],[12.1,-0.2],[12.7,-0.12],[13.1,-0.22],[13.6,-0.18],[14.1,-0.3],[14.6,-0.25],[15.1,-0.2],[15.6,-0.35],[16.1,-0.28],[16.6,-0.4],[17.1,-0.3],[17.6,-0.35],[18.1,-0.45],[18.6,-0.35],[19.1,-0.45],[19.9,-0.3],[20.6,-0.35],[13.6,0.4],[14.3,0.2],[14.9,0.5],[15.3,0.3],[15.9,0.65],[16.3,0.4],[16.8,1.0],[17.2,0.55],[17.8,0.4],[18.3,0.65],[18.9,0.85],[19.4,0.5],[16.2,0.2],[17.5,1.5],[18.7,1.7]];

var XT_CO2 = '<i>Q</i><sup>0</sup><sub><i>st</i></sub>(CO<sub>2</sub>) (kJ/mol)';
var XT_C2H4 = '<i>Q</i><sup>0</sup><sub><i>st</i></sub>(C<sub>2</sub>H<sub>4</sub>) (kJ/mol)';
var XT_O2 = '<i>Q</i><sup>0</sup><sub><i>st</i></sub>(O<sub>2</sub>) (kJ/mol)';
var YT_DN = '&Delta;<i>N</i> (mol/kg)';
var YT_LGS = 'lg(<i>S</i>)';
var YT_TSN = '<i>TSN</i> (mol/kg)';

// box = [izq, arriba, der, abajo] del área de trazado
var PANELS = [
  { tag: '(a)', gray: dnCO2Gray, red: dnCO2Red, box: [62, 15, 266, 179], x: [9.5, 60.1], y: [-0.1, 5], xt: TICKS_CO2, yt: TICKS_DN, dec: 0, lab: [18, 17], xTitle: XT_CO2, xPos: [168, 212], xSize: 17, yTitle: YT_DN, yPos: [35, 94] },
  { tag: '(b)', gray: dnC2H4Gray, red: dnC2H4Red, box: [327, 15, 532, 179], x: [10.6, 42.0], y: [-0.1, 5], xt: TICKS_C2H4, yt: TICKS_DN, dec: 0, lab: [296, 17], xTitle: XT_C2H4, xPos: [432, 212], xSize: 17, yTitle: YT_DN, yPos: [299, 94] },
  { tag: '(c)', gray: dnO2Gray, red: dnO2Red, box: [591, 15, 795, 178], x: [7.0, 23.3], y: [-0.1, 5], xt: TICKS_O2, yt: TICKS_DN, dec: 0, lab: [560, 17], xTitle: XT_O2, xPos: [693, 212], xSize: 17, yTitle: YT_DN, yPos: [564, 94] },
  { tag: '(d)', gray: lgsCO2Gray, red: lgsCO2Red, box: [64, 239, 262, 399], x: [10, 60.7], y: [-1.08, 1.84], xt: TICKS_CO2, yt: TICKS_LGS, dec: 1, lab: [19, 241], xTitle: XT_CO2, xPos: [163, 437], xSize: 17, yTitle: YT_LGS, yPos: [25, 322] },
  { tag: '(e)', gray: lgsC2H4Gray, red: lgsC2H4Red, box: [333, 240, 532, 400], x: [10.9, 42.3], y: [-1.1, 1.82], xt: TICKS_C2H4, yt: TICKS_LGS, dec: 1, lab: [295, 241], xTitle: XT_C2H4, xPos: [433, 437], xSize: 17, yTitle: YT_LGS, yPos: [291, 322] },
  { tag: '(f)', gray: lgsO2Gray, red: lgsO2Red, box: [596, 239, 792, 400], x: [7.3, 23.0], y: [-1.1, 1.84], xt: TICKS_O2, yt: TICKS_LGS, dec: 1, lab: [557, 240], xTitle: XT_O2, xPos: [694, 437], xSize: 17, yTitle: YT_LGS, yPos: [555, 322] },
  { tag: '(g)', gray: tsnCO2Gray, red: tsnCO2Red, box: [64, 465, 258, 624], x: [9.3, 61.5], y: [-1, 7.17], xt: TICKS_CO2, yt: TICKS_TSN, dec: 0, lab: [19, 467], xTitle: XT_CO2, xPos: [145, 661], xSize: 18, yTitle: YT_TSN, yPos: [33, 538] },
  { tag: '(h)', gray: tsnC2H4Gray, red: tsnC2H4Red, box: [333, 465, 535, 630], x: [11.3, 42.3], y: [-1, 7.08], xt: TICKS_C2H4, yt: TICKS_TSN, dec: 0, lab: [296, 467], xTitle: XT_C2H4, xPos: [426, 661], xSize: 18, yTitle: YT_TSN, yPos: [297, 547] },
  { tag: '(i)', gray: tsnO2Gray, red: tsnO2Red, box: [598, 466, 789, 622], x: [6.95, 22.86], y: [-1, 7.1], xt: TICKS_O2, yt: TICKS_TSN, dec: 0, lab: [568, 467], xTitle: XT_O2, xPos: [697, 661], xSize: 18, yTitle: YT_TSN, yPos: [567, 547] }
];

var PAD_L = 44, PAD_T = 8, PAD_R = 12, PAD_B = 26;
var wrap = document.getElementById('wrap');

// marco gris alrededor del área de trazado
var framePlugin = {
  id: 'frame',
  afterDraw: function(chart) {
    var a = chart.chartArea, ctx = chart.ctx;
    ctx.save();
    ctx.strokeStyle = '#8a8a8a';
    ctx.lineWidth = 1;
    ctx.strokeRect(Math.round(a.left) + 0.5, Math.round(a.top) + 0.5, Math.round(a.right - a.left), Math.round(a.bottom - a.top));
    ctx.restore();
  }
};

function toPts(arr) {
  return arr.map(function(p) { return { x: p[0], y: p[1] }; });
}

function fmt(v, dec) {
  return v.toFixed(dec).replace('-', '\u2212');
}

function addText(cls, html, x, y, size) {
  var d = document.createElement('div');
  d.className = cls;
  d.innerHTML = html;
  d.style.left = x + 'px';
  d.style.top = y + 'px';
  if (size) d.style.fontSize = size + 'px';
  wrap.appendChild(d);
}

function renderPanel(p) {
  var c = document.createElement('canvas');
  var w = p.box[2] - p.box[0] + PAD_L + PAD_R;
  var h = p.box[3] - p.box[1] + PAD_T + PAD_B;
  c.width = w; c.height = h;
  c.style.width = w + 'px'; c.style.height = h + 'px';
  c.style.left = (p.box[0] - PAD_L) + 'px';
  c.style.top = (p.box[1] - PAD_T) + 'px';
  wrap.appendChild(c);

  var tickFont = { family: '"Liberation Serif", "Times New Roman", serif', size: 13 };

  new Chart(c, {
    type: 'scatter',
    data: {
      datasets: [
        { data: toPts(p.red), order: 0, pointRadius: 3, pointBackgroundColor: '#e2262b', pointBorderWidth: 0 },
        { data: toPts(p.gray), order: 1, pointRadius: 2.2, pointBackgroundColor: 'rgba(0,0,0,0)', pointBorderColor: 'rgba(20,20,20,0.9)', pointBorderWidth: 1 }
      ]
    },
    options: {
      responsive: false,
      animation: false,
      devicePixelRatio: 1,
      layout: { padding: { left: 0, top: PAD_T, right: PAD_R, bottom: 0 } },
      plugins: { legend: { display: false }, tooltip: { enabled: false } },
      scales: {
        x: {
          type: 'linear', min: p.x[0], max: p.x[1],
          afterBuildTicks: function(ax) { ax.ticks = p.xt.map(function(v) { return { value: v }; }); },
          afterFit: function(ax) { ax.height = PAD_B; },
          ticks: { font: tickFont, color: '#111', padding: 2, maxRotation: 0, callback: function(v) { return fmt(v, 0); } },
          grid: { drawOnChartArea: false, drawTicks: true, tickLength: 4, color: '#333' },
          border: { display: false }
        },
        y: {
          type: 'linear', min: p.y[0], max: p.y[1],
          afterBuildTicks: function(ax) { ax.ticks = p.yt.map(function(v) { return { value: v }; }); },
          afterFit: function(ax) { ax.width = PAD_L; },
          ticks: { font: tickFont, color: '#111', padding: 3, callback: function(v) { return fmt(v, p.dec); } },
          grid: { drawOnChartArea: false, drawTicks: true, tickLength: 4, color: '#333' },
          border: { display: false }
        }
      }
    },
    plugins: [framePlugin]
  });

  addText('lbl', p.tag, p.lab[0], p.lab[1]);
  addText('xt', p.xTitle, p.xPos[0], p.xPos[1], p.xSize);
  addText('yt', p.yTitle, p.yPos[0], p.yPos[1], p.xSize);
}

PANELS.forEach(renderPanel);
</script>
</body>
</html>
